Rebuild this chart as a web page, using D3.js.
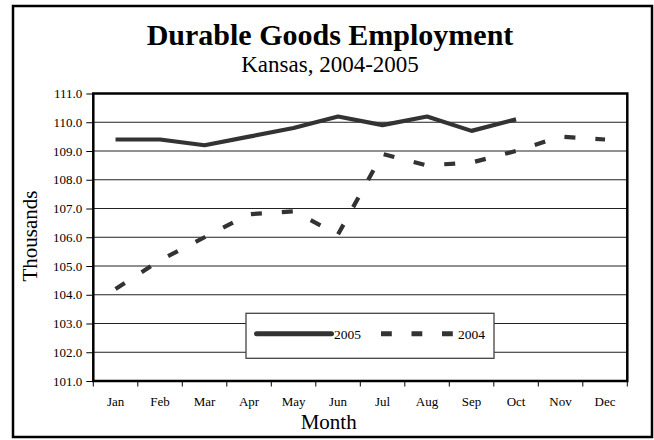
<!DOCTYPE html>
<html><head><meta charset="utf-8">
<script src="https://cdn.jsdelivr.net/npm/d3@7"></script>
<style>body{margin:0;background:#fff} svg{display:block} svg text{font-family:"Liberation Serif","Times New Roman",serif;}</style>
</head><body><svg id="c" width="654" height="440"></svg>
<script>
const months = ["Jan","Feb","Mar","Apr","May","Jun","Jul","Aug","Sep","Oct","Nov","Dec"];
const values2005 = [109.4,109.4,109.2,109.5,109.8,110.2,109.9,110.2,109.7,110.1];
const values2004 = [104.2,105.2,106.0,106.8,106.9,106.1,108.9,108.5,108.6,109.0,109.5,109.4];
const yTicks = [101,102,103,104,105,106,107,108,109,110,111];
const seriesNames = ["2005","2004"];
const titleText = "Durable Goods Employment";
const subtitleText = "Kansas, 2004-2005";
const xTitle = "Month";
const yTitle = "Thousands";

const svg = d3.select("#c");
const font = "Liberation Serif";
const L = 93.3, R = 627.3, T = 93.5, B = 381;
const lineColor = "#333";

// outer frame
svg.append("rect").attr("x",13).attr("y",6).attr("width",639).attr("height",431)
  .attr("fill","#fff").attr("stroke","#000").attr("stroke-width",2.5);

// titles
svg.append("text").attr("x",330).attr("y",44.5).attr("text-anchor","middle")
  .style("font-family",font).attr("font-weight","bold").attr("font-size",30).text(titleText);
svg.append("text").attr("x",330).attr("y",72).attr("text-anchor","middle")
  .style("font-family",font).attr("font-size",23).text(subtitleText);

const x = d3.scaleBand().domain(months).range([L,R]).padding(0);
const y = d3.scaleLinear().domain([101,111]).range([B,T]);

// gridlines
svg.append("g").selectAll("line").data(yTicks).join("line")
  .attr("x1",L).attr("x2",R).attr("y1",d=>y(d)).attr("y2",d=>y(d))
  .attr("stroke","#222").attr("stroke-width",1);

// y axis
const yAxis = svg.append("g").attr("transform",`translate(${L},0)`)
  .call(d3.axisLeft(y).tickValues(yTicks).tickFormat(d3.format(".1f")).tickSize(7).tickPadding(4))
  .call(g=>g.select(".domain").remove());
yAxis.attr("font-family",null);
yAxis.selectAll("line").attr("stroke","#000").attr("stroke-width",1);
yAxis.selectAll("text").style("font-family",font).attr("font-size",13).attr("fill","#000");

// x axis labels
const xAxis = svg.append("g").attr("transform",`translate(0,${B})`)
  .call(d3.axisBottom(x).tickSize(0).tickPadding(15.3))
  .call(g=>g.select(".domain").remove());
xAxis.attr("font-family",null);
xAxis.selectAll("text").style("font-family",font).attr("font-size",13).attr("fill","#000");
// x tick marks at category boundaries
const bounds = months.map(m=>x(m)).concat([x(months[months.length-1])+x.bandwidth()]);
svg.append("g").selectAll("line").data(bounds).join("line")
  .attr("x1",d=>d).attr("x2",d=>d).attr("y1",B).attr("y2",B+5.5)
  .attr("stroke","#000").attr("stroke-width",1);

// plot frame
svg.append("rect").attr("x",L).attr("y",T).attr("width",R-L).attr("height",B-T)
  .attr("fill","none").attr("stroke","#000").attr("stroke-width",2.5);

// axis titles
svg.append("text").attr("x",328.7).attr("y",429.3).attr("text-anchor","middle")
  .style("font-family",font).attr("font-size",21).text(xTitle);
svg.append("text").attr("transform","translate(37,236) rotate(-90)").attr("text-anchor","middle")
  .style("font-family",font).attr("font-size",21).text(yTitle);

// lines
const line = d3.line().x((d,i)=>x(months[i])+x.bandwidth()/2).y(d=>y(d));
svg.append("path").datum(values2004).attr("d",line).attr("fill","none")
  .attr("stroke",lineColor).attr("stroke-width",4.2).attr("stroke-dasharray","11,20");
svg.append("path").datum(values2005).attr("d",line).attr("fill","none")
  .attr("stroke",lineColor).attr("stroke-width",4.2).attr("stroke-linejoin","round");

// legend
const lg = svg.append("g");
lg.append("rect").attr("x",246).attr("y",313.3).attr("width",248).attr("height",45)
  .attr("fill","#fff").attr("stroke","#444").attr("stroke-width",1.3);
lg.append("line").attr("x1",256.5).attr("x2",331.5).attr("y1",333.7).attr("y2",333.7)
  .attr("stroke",lineColor).attr("stroke-width",5).attr("stroke-linecap","round");
lg.append("text").attr("x",334).attr("y",339).style("font-family",font).attr("font-size",13.5).text(seriesNames[0]);
lg.append("line").attr("x1",381).attr("x2",453).attr("y1",333.7).attr("y2",333.7)
  .attr("stroke",lineColor).attr("stroke-width",5).attr("stroke-dasharray","10.8,19.7");
lg.append("text").attr("x",458).attr("y",339).style("font-family",font).attr("font-size",13.5).text(seriesNames[1]);
</script></body></html>
